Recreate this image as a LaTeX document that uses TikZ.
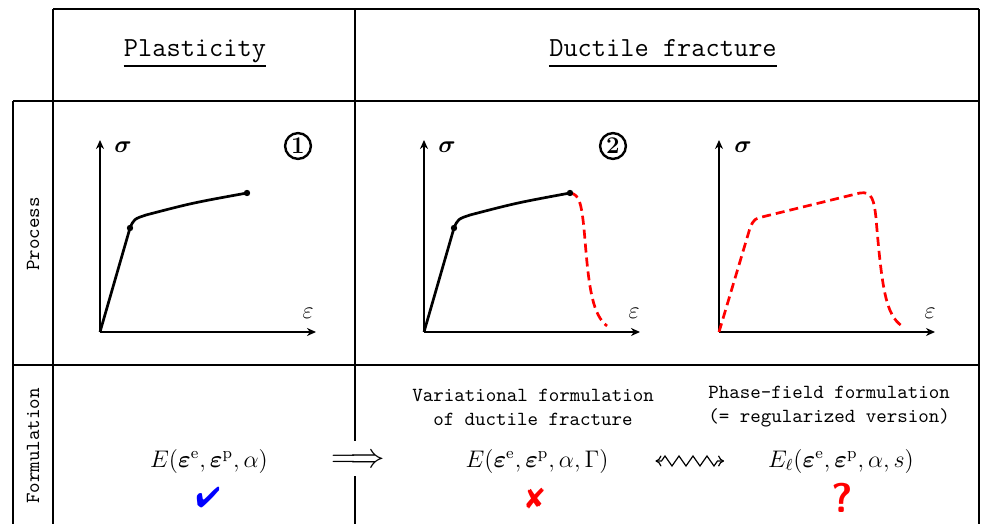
\documentclass[tikz,border=0pt]{standalone}
\usepackage{amsmath,amssymb,bm}
\usepackage{pifont}
\usetikzlibrary{arrows.meta,decorations.pathmorphing}

\begin{document}
\begin{tikzpicture}[
  x=0.5pt, y=-0.5pt,
  rule/.style={line width=1pt},
  axis/.style={-{Stealth[length=4.5pt,width=4pt]}, line width=0.85pt},
  curve/.style={line width=1.35pt, line join=round},
  soft/.style={curve, red, dash pattern=on 4.5pt off 2.5pt},
  knot/.style={circle, fill, inner sep=0pt, minimum size=3.2pt},
  head/.style={font=\fontsize{13.8}{16}\selectfont\ttfamily, anchor=base, inner sep=0pt},
  headline/.style={line width=0.8pt},
  rowlab/.style={font=\ttfamily, rotate=90},
  note/.style={font=\ttfamily, align=center},
  formula/.style={font=\large},
  numbox/.style={circle, draw, line width=1.2pt, inner sep=0.9pt, font=\large\bfseries},
  squig/.style={{To[length=3pt,width=5.5pt]}-{To[length=3pt,width=5.5pt]}, line width=0.6pt, decorate,
    decoration={zigzag, segment length=7pt, amplitude=2.5pt, pre length=3pt, post length=3pt}}
]
\useasboundingbox (0,0) rectangle (981,524);

\draw[rule] (53,9) -- (979,9);
\draw[rule] (13,101) -- (979,101);
\draw[rule] (13,365) -- (979,365);
\draw[rule] (13,101) -- (13,524);
\draw[rule] (53,9) -- (53,524);
\draw[rule] (355,9) -- (355,441);
\draw[rule] (355,476) -- (355,524);
\draw[rule] (979,9) -- (979,524);

\node[head] (plast) at (195,57) {Plasticity};
\node[head] (ductile) at (663,57) {Ductile fracture};
\draw[headline] ([yshift=-4.5pt]plast.base west) -- ([yshift=-4.5pt]plast.base east);
\draw[headline] ([yshift=-4.5pt]ductile.base west) -- ([yshift=-4.5pt]ductile.base east);
\node[rowlab] (process) at (33,234) {Process};
\node[rowlab] (formul) at (33,446) {Formulation};

\draw[axis] (100,332) -- (100,140);
\draw[axis] (100,332) -- (316,332);
\node (sigA) at (123,147) {\large$\boldsymbol{\sigma}$};
\node (epsA) at (308,313) {\large$\varepsilon$};
\node[numbox] (numA) at (298,146) {1};
\draw[curve] (100,332) -- (130,228) .. controls (134,219) .. (146,215) .. controls (192,203) .. (247,193);
\node[knot] (yieldA) at (130,228) {};
\node[knot] (endA) at (247,193) {};

\draw[axis] (424,332) -- (424,140);
\draw[axis] (424,332) -- (640,332);
\node (sigB) at (447,147) {\large$\boldsymbol{\sigma}$};
\node (epsB) at (634,313) {\large$\varepsilon$};
\node[numbox] (numB) at (613,146) {2};
\draw[curve] (424,332) -- (454,228) .. controls (458,219) .. (470,215) .. controls (516,203) .. (570,193);
\draw[soft] (570,193) .. controls (580,194) and (582,205) .. (585,240) .. controls (589,290) and (593,315) .. (607,326);
\node[knot] (yieldB) at (454,228) {};
\node[knot] (endB) at (570,193) {};

\draw[axis] (719,332) -- (719,140);
\draw[axis] (719,332) -- (935,332);
\node (sigC) at (743,147) {\large$\boldsymbol{\sigma}$};
\node (epsC) at (930,313) {\large$\varepsilon$};
\draw[soft] (719,332) -- (750,228) .. controls (754,219) .. (766,216) -- (860,193) .. controls (872,191) and (874,200) .. (876,218) .. controls (882,290) and (886,315) .. (902,326);

\node[note] (variational) at (533,407) {Variational formulation\\of ductile fracture};
\node[note] (phasefield) at (829,407) {Phase-field formulation\\(= regularized version)};
\node[formula] (eplast) at (209,461) {$E(\boldsymbol{\varepsilon}^{\mathrm{e}},\boldsymbol{\varepsilon}^{\mathrm{p}},\alpha)$};
\node[font=\LARGE, inner sep=0pt] (implies) at (358,461) {$\Longrightarrow$};
\node[formula] (egamma) at (537,461) {$E(\boldsymbol{\varepsilon}^{\mathrm{e}},\boldsymbol{\varepsilon}^{\mathrm{p}},\alpha,\Gamma)$};
\node[formula] (eell) at (841,461) {$E_\ell(\boldsymbol{\varepsilon}^{\mathrm{e}},\boldsymbol{\varepsilon}^{\mathrm{p}},\alpha,s)$};
\draw[squig] ([xshift=20pt]egamma.east) -- ([xshift=-18.5pt]eell.west);

\node[text=blue, font=\Large] (okmark) at (208,498) {\ding{52}};
\node[text=red, font=\Large] (nomark) at (535,498) {\ding{56}};
\node[text=red, font=\huge\sffamily\bfseries] (askmark) at (842,498) {?};
\end{tikzpicture}
\end{document}
